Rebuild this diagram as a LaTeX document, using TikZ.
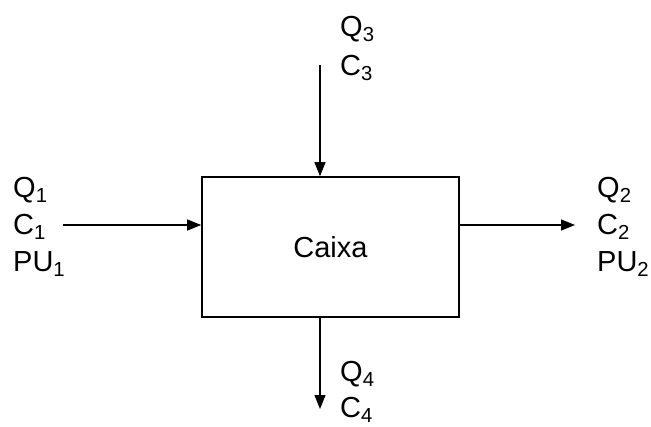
\documentclass[tikz,border=0pt]{standalone}
\usepackage{fontspec}
\setmainfont{Liberation Sans}
\usetikzlibrary{arrows.meta}
\tikzset{
    lbl/.style={anchor=base west, inner sep=0pt, font=\fontsize{29}{34}\selectfont},
    flow/.style={line width=1.2pt, -{Triangle[length=14pt,width=11pt]}}
}
\begin{document}
\begin{tikzpicture}[x=1pt, y=-1pt]
    \useasboundingbox (0,0) rectangle (651,426);
    % box in the middle (units are pixels of the reference)
    \node[draw, line width=1.6pt, minimum width=257pt, minimum height=140pt,
          font=\fontsize{29}{34}\selectfont] (box) at (330.5,247) {Caixa};
    \coordinate (in1) at (63,225);
    \coordinate (in3) at (320,65);
    \coordinate (out2) at (575,225);
    \coordinate (out4) at (320,409);
    \draw[flow] (in1) -- (in1 -| box.west);
    \draw[flow] (in3) -- (in3 |- box.north);
    \draw[flow] (out2 -| box.east) -- (out2);
    \draw[flow] (out4 |- box.south) -- (out4);
    % labels
    \node[lbl] (q1) at (13,197) {Q\textsubscript{1}};
    \node[lbl] (c1) at (13,234) {C\textsubscript{1}};
    \node[lbl] (pu1) at (13,271) {PU\textsubscript{1}};
    \node[lbl] (q2) at (597,197) {Q\textsubscript{2}};
    \node[lbl] (c2) at (597,234) {C\textsubscript{2}};
    \node[lbl] (pu2) at (597,271) {PU\textsubscript{2}};
    \node[lbl] (q3) at (340,36) {Q\textsubscript{3}};
    \node[lbl] (c3) at (340,75) {C\textsubscript{3}};
    \node[lbl] (q4) at (340,381) {Q\textsubscript{4}};
    \node[lbl] (c4) at (340,417) {C\textsubscript{4}};
\end{tikzpicture}
\end{document}
